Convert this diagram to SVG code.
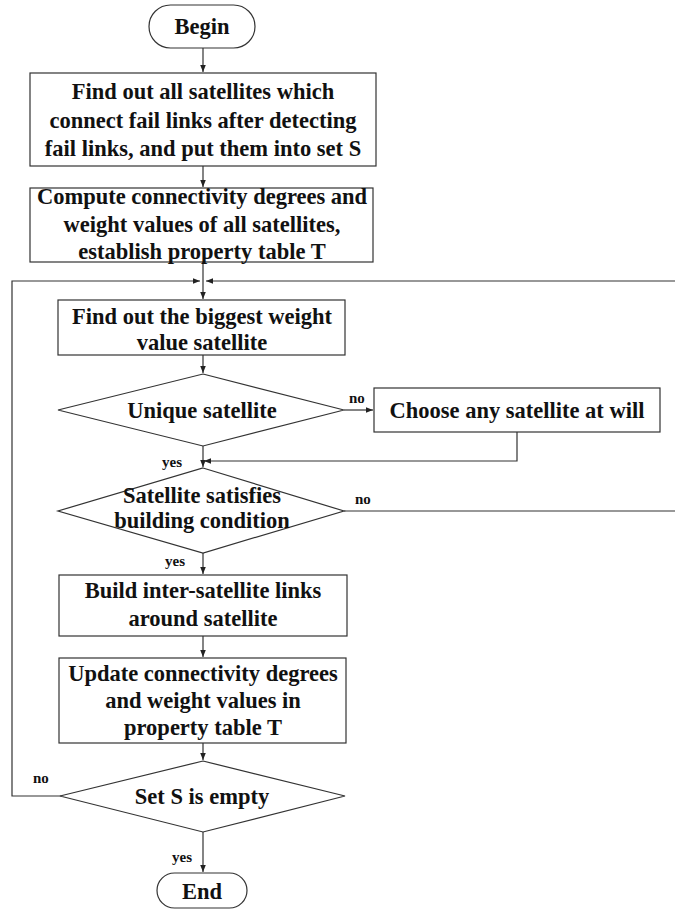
<svg xmlns="http://www.w3.org/2000/svg" width="675" height="911" viewBox="0 0 675 911">
<style>
.s{fill:#fff;stroke:#333;stroke-width:1.2}
.t{font-family:"Liberation Serif","Times New Roman",serif;font-weight:bold;font-size:22.5px;fill:#111;text-anchor:middle}
.l{font-family:"Liberation Serif","Times New Roman",serif;font-weight:bold;font-size:15px;fill:#111}
.c{fill:none;stroke:#333;stroke-width:1.2}
</style>
<defs>
<marker id="a" viewBox="0 0 10 10" refX="10" refY="5" markerWidth="7" markerHeight="7" markerUnits="userSpaceOnUse" orient="auto">
<path d="M0,1 L10,5 L0,9 z" fill="#222"/>
</marker>
</defs>
<g id="connectors">
<line class="c" x1="203" y1="48" x2="203" y2="72" marker-end="url(#a)"/>
<line class="c" x1="203" y1="166" x2="203" y2="187" marker-end="url(#a)"/>
<line class="c" x1="203" y1="262" x2="203" y2="299" marker-end="url(#a)"/>
<path class="c" d="M62,796 H12 V281 H200" marker-end="url(#a)"/>
<path class="c" d="M344,511 H677 V281 H206" marker-end="url(#a)"/>
<line class="c" x1="203" y1="355" x2="203" y2="373" marker-end="url(#a)"/>
<line class="c" x1="344" y1="410" x2="373" y2="410" marker-end="url(#a)"/>
<line class="c" x1="203" y1="446" x2="203" y2="467" marker-end="url(#a)"/>
<path class="c" d="M517,432 V461 H204" marker-end="url(#a)"/>
<line class="c" x1="203" y1="553" x2="203" y2="574" marker-end="url(#a)"/>
<line class="c" x1="203" y1="636" x2="203" y2="657" marker-end="url(#a)"/>
<line class="c" x1="203" y1="743" x2="203" y2="760" marker-end="url(#a)"/>
<line class="c" x1="203" y1="832" x2="203" y2="872" marker-end="url(#a)"/>
<text class="l" x="349" y="403">no</text>
<text class="l" x="162" y="467">yes</text>
<text class="l" x="355" y="504">no</text>
<text class="l" x="165" y="566">yes</text>
<text class="l" x="33" y="783">no</text>
<text class="l" x="172" y="862">yes</text>
</g>
<g id="begin">
<rect class="s" x="149" y="5" width="106" height="43" rx="21.5"/>
<text class="t" x="202" y="34">Begin</text>
</g>
<g id="box1">
<rect class="s" x="30" y="73" width="346" height="93"/>
<text class="t" x="203" y="99">Find out all satellites which</text>
<text class="t" x="203" y="128">connect fail links after detecting</text>
<text class="t" x="203" y="156">fail links, and put them into set S</text>
</g>
<g id="box2">
<rect class="s" x="30" y="188" width="343" height="74"/>
<text class="t" x="202" y="204">Compute connectivity degrees and</text>
<text class="t" x="202" y="232">weight values of all satellites,</text>
<text class="t" x="202" y="259">establish property table T</text>
</g>
<g id="box3">
<rect class="s" x="58" y="300" width="287" height="55"/>
<text class="t" x="202" y="324">Find out the biggest weight</text>
<text class="t" x="202" y="350">value satellite</text>
</g>
<g id="unique">
<polygon class="s" points="203,374 344,410 203,446 58,410"/>
<text class="t" x="202" y="418">Unique satellite</text>
</g>
<g id="choose">
<rect class="s" x="374" y="388" width="286" height="44"/>
<text class="t" x="517" y="418">Choose any satellite at will</text>
</g>
<g id="satisfies">
<polygon class="s" points="203,468 344,511 203,553 58,511"/>
<text class="t" x="202" y="503">Satellite satisfies</text>
<text class="t" x="202" y="528">building condition</text>
</g>
<g id="build">
<rect class="s" x="59" y="575" width="288" height="61"/>
<text class="t" x="203" y="598">Build inter-satellite links</text>
<text class="t" x="203" y="626">around satellite</text>
</g>
<g id="update">
<rect class="s" x="59" y="658" width="287" height="85"/>
<text class="t" x="203" y="681">Update connectivity degrees</text>
<text class="t" x="203" y="708">and weight values in</text>
<text class="t" x="203" y="735">property table T</text>
</g>
<g id="empty">
<polygon class="s" points="203,761 345,796 203,832 60,796"/>
<text class="t" x="202" y="804">Set S is empty</text>
</g>
<g id="end">
<rect class="s" x="157" y="873" width="90" height="35" rx="17.5"/>
<text class="t" x="202" y="899">End</text>
</g>
</svg>
